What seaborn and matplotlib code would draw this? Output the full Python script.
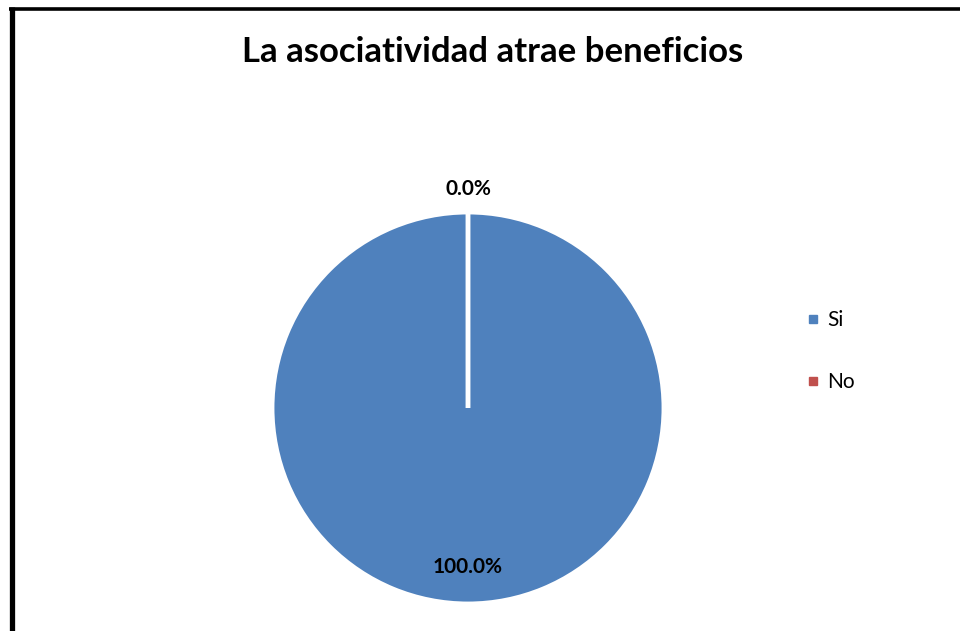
import matplotlib
matplotlib.use("Agg")
import matplotlib.pyplot as plt
import seaborn as sns
import numpy as np
from matplotlib.lines import Line2D

sns.set_theme(style="white")
plt.rcParams['font.family'] = ['Lato', 'DejaVu Sans']
plt.rcParams['text.color'] = 'black'

categories = ["Si", "No"]
values = [100.0, 0.0]
colors = ["#4F81BD", "#C0504D"]
title = "La asociatividad atrae beneficios"

fig = plt.figure(figsize=(9.6, 6.31), dpi=100)
fig.patch.set_facecolor("white")

W, H = 960, 631
cx, cy, r = 468, 408, 196
ax = fig.add_axes([(cx - r) / W, (H - cy - r) / H, 2 * r / W, 2 * r / H])

wedges, texts, autotexts = ax.pie(
    values, colors=colors, startangle=90, counterclock=False,
    autopct="%1.1f%%", pctdistance=0.81, radius=1,
    wedgeprops=dict(edgecolor="white", linewidth=3.5),
    textprops=dict(fontsize=15, fontweight="bold", color="black"),
)
# move the zero-value label outside the pie
for w, t, v in zip(wedges, autotexts, values):
    if v == 0:
        ang = np.deg2rad((w.theta1 + w.theta2) / 2)
        t.set_position((1.115 * np.cos(ang), 1.115 * np.sin(ang)))
ax.set_xlim(-1, 1)
ax.set_ylim(-1, 1)
ax.set_aspect("equal")
ax.axis("off")

fig.text(493 / W, 1 - 52 / H, title, ha="center", va="center",
         fontsize=25, fontweight="bold", color="black")

handles = [Line2D([0], [0], marker="s", linestyle="none", markersize=6,
                  markerfacecolor=c, markeredgecolor=c) for c in colors]
leg = fig.legend(handles, categories, loc="center left",
                 bbox_to_anchor=(794 / W, 1 - 351 / H), frameon=False,
                 fontsize=15, labelspacing=2.0, handletextpad=0.2,
                 handlelength=1.0, borderaxespad=0, labelcolor="black")

# chart border (left and top edges visible)
fig.add_artist(Line2D([11.5 / W, 11.5 / W], [-0.1, 1 - 7 / H], color="black",
                      linewidth=3.8, solid_capstyle="butt",
                      transform=fig.transFigure))
fig.add_artist(Line2D([9 / W, 1.1], [1 - 8.5 / H, 1 - 8.5 / H], color="black",
                      linewidth=2.6, solid_capstyle="butt",
                      transform=fig.transFigure))

fig.savefig("out.png", dpi=100)
